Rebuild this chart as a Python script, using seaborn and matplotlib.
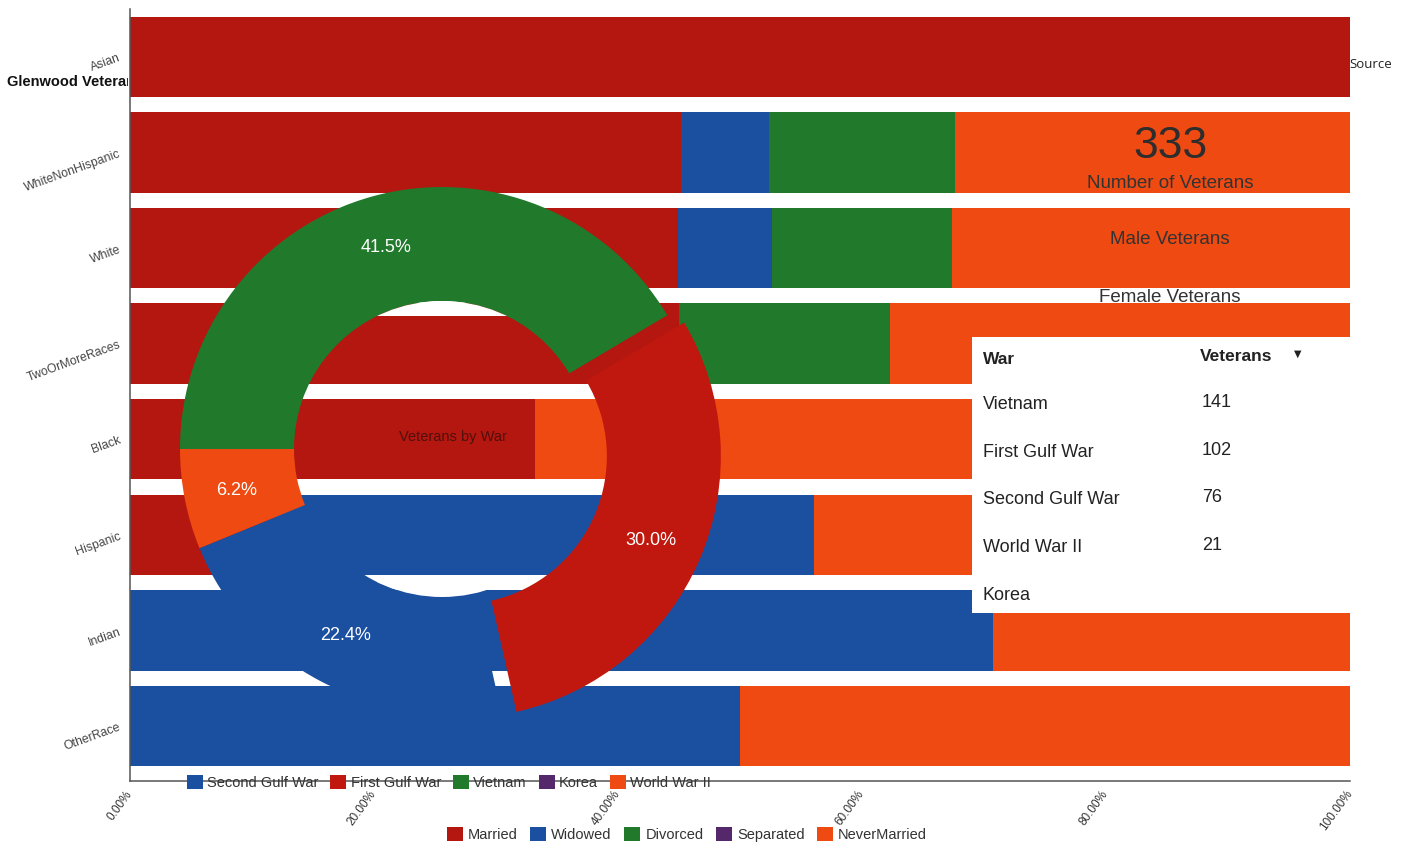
import matplotlib
matplotlib.use("Agg")
import matplotlib.pyplot as plt
import numpy as np
import pandas as pd
import seaborn as sns
from matplotlib.patches import Patch, Circle, Rectangle
from matplotlib.transforms import Bbox
from matplotlib.ticker import FixedLocator

# ---- marital status share (%) by race ----
races = ["Asian", "WhiteNonHispanic", "White", "TwoOrMoreRaces",
         "Black", "Hispanic", "Indian", "OtherRace"]
statuses = ["Married", "Widowed", "Divorced", "Separated", "NeverMarried"]
married = [100.0, 45.2, 44.9, 45.0, 33.2, 12.0, 0.0, 0.0]
widowed = [0.0, 7.2, 7.7, 0.0, 0.0, 44.1, 70.7, 50.0]
divorced = [0.0, 15.2, 14.8, 17.3, 0.0, 0.0, 0.0, 0.0]
separated = [0.0, 0.0, 0.0, 0.0, 0.0, 0.0, 0.0, 0.0]
never_married = [0.0, 32.4, 32.6, 37.7, 66.8, 43.9, 29.3, 50.0]
x_ticks = [0, 20, 40, 60, 80, 100]

# ---- veterans by war ----
wars = ["Vietnam", "First Gulf War", "Second Gulf War", "World War II", "Korea"]
war_veterans = [141, 102, 76, 21, None]
legend_wars = ["Second Gulf War", "First Gulf War", "Vietnam", "Korea", "World War II"]
total_veterans = 333
card_labels = ["Number of Veterans", "Male Veterans", "Female Veterans"]

status_colors = {
    "Married": "#b3170f",
    "Widowed": "#1b4fa0",
    "Divorced": "#217a2b",
    "Separated": "#55286b",
    "NeverMarried": "#ee4a12",
}
war_colors = {
    "Second Gulf War": "#1b4fa0",
    "First Gulf War": "#c0180e",
    "Vietnam": "#217a2b",
    "Korea": "#55286b",
    "World War II": "#ee4a12",
}

sns.set_style("white")
plt.rcParams["font.family"] = ["Liberation Sans", "DejaVu Sans"]

W, H = 1408, 854
fig = plt.figure(figsize=(W / 100, H / 100), dpi=100)
fig.patch.set_facecolor("white")


def fx(x):
    return x / W


def fy(y):
    return 1 - y / H


# ---- title (clipped by the plot area) ----
title = fig.text(fx(7), fy(82), "Glenwood Veterans", ha="left", va="center",
                 fontsize=10.5, fontweight="bold", color="#111111", zorder=0.5)
title.set_clip_box(Bbox.from_extents(0, 0, 128, H))
title.set_clip_on(True)

# ---- 100% stacked horizontal bars ----
ax = fig.add_axes([fx(130), fy(782), fx(1350) - fx(130), fy(10) - fy(782)])
ax.patch.set_alpha(0)
shares = pd.DataFrame({
    "race": races,
    "Married": married,
    "Widowed": widowed,
    "Divorced": divorced,
    "Separated": separated,
    "NeverMarried": never_married,
})
cum = shares[statuses].cumsum(axis=1)
cum["race"] = races
for status in reversed(statuses):
    if shares[status].max() <= 0:
        continue
    sns.barplot(data=cum, x=status, y="race", order=races, orient="h",
                color=status_colors[status], saturation=1, width=0.84,
                errorbar=None, linewidth=0, ax=ax)

ax.set_xlim(0, 100)
ax.set_ylim(len(races) - 0.5 + 0.075, -0.5)
ax.set_xlabel("")
ax.set_ylabel("")
ax.xaxis.set_major_locator(FixedLocator(x_ticks))
ax.set_xticklabels([f"{v:.2f}%" for v in x_ticks], rotation=54, ha="right",
                   va="center", rotation_mode="anchor", fontsize=8.5, color="#333333")
ax.set_yticks(range(len(races)))
ax.set_yticklabels(races, rotation=20, ha="right", va="center",
                   rotation_mode="anchor", fontsize=8.8, color="#444444")
ax.tick_params(axis="both", length=4, width=1, color="#666666", pad=3)
sns.despine(ax=ax)
for side in ("left", "bottom"):
    ax.spines[side].set_color("#555555")
    ax.spines[side].set_linewidth(1.1)

# ---- donut: veterans by war ----
cx, cy, R = 442, 450, 262
half = 1.15 * R
axd = fig.add_axes([fx(cx - half), fy(cy + half), 2 * half / W, 2 * half / H])
pie_names = [w for w, v in zip(wars, war_veterans) if v is not None]
pie_vals = [v for v in war_veterans if v is not None]
explode = [0.07 if w == "First Gulf War" else 0 for w in pie_names]
inner = 148 / R
axd.pie(pie_vals, colors=[war_colors[w] for w in pie_names], startangle=180,
        counterclock=False, explode=explode, radius=1,
        wedgeprops=dict(width=1 - inner, linewidth=0),
        autopct="%.1f%%", pctdistance=0.8,
        textprops=dict(color="white", fontsize=13))
axd.set_xlim(-1.15, 1.15)
axd.set_ylim(-1.15, 1.15)
axd.set_aspect("equal")
axd.axis("off")

# white rims at the top and bottom of the donut hole
cap_depth = 15 / R
for y0, y1 in ((inner - cap_depth, inner + 0.01), (-inner - 0.01, -inner + cap_depth)):
    cap = Circle((0, 0), inner, facecolor="white", edgecolor="none")
    axd.add_patch(cap)
    band = Rectangle((-1.2, y0), 2.4, y1 - y0, transform=axd.transData)
    cap.set_clip_path(band)

axd.text(0.04, 0.05, "Veterans by War", ha="center", va="center",
         fontsize=10.5, color="#3a0d0a", alpha=0.8)

# ---- summary card ----
fig.text(fx(1349), fy(64), "Source", ha="left", va="center", fontsize=9.5,
         color="#222222", family=["Open Sans", "DejaVu Sans"])
fig.text(fx(1170), fy(147), f"{total_veterans}", ha="center", va="center",
         fontsize=32, color="#2d2d2d")
for label, y in zip(card_labels, (183, 240, 297)):
    fig.text(fx(1170), fy(y), label, ha="center", va="center",
             fontsize=13.5, color="#333333")

# ---- table of veterans by war ----
axt = fig.add_axes([fx(972), fy(614), fx(1358) - fx(972), (614 - 338) / H])
axt.set_facecolor("white")
axt.set_xticks([])
axt.set_yticks([])
for sp in axt.spines.values():
    sp.set_visible(False)

fig.text(fx(983), fy(360), "War", ha="left", va="center", fontsize=12.5,
         fontweight="bold", color="#222222")
fig.text(fx(1200), fy(357), "Veterans", ha="left", va="center", fontsize=12.5,
         fontweight="bold", color="#222222")
fig.text(fx(1298), fy(354), "\u25BC", ha="center", va="center", fontsize=7,
         color="#222222", family=["DejaVu Sans"])
for i, (name, val) in enumerate(zip(wars, war_veterans)):
    y = 405 + i * 47.5
    fig.text(fx(983), fy(y), name, ha="left", va="center", fontsize=13,
             color="#222222")
    if val is not None:
        fig.text(fx(1202), fy(y - 2), f"{val}", ha="left", va="center",
                 fontsize=13, color="#222222")

# ---- legends ----
war_handles = [Patch(facecolor=war_colors[w], edgecolor="none", label=w)
               for w in legend_wars]
fig.legend(handles=war_handles, loc="center", bbox_to_anchor=(fx(449), fy(783)),
           ncol=5, frameon=False, fontsize=10.5, handlelength=1.1,
           handleheight=1.1, handletextpad=0.3, columnspacing=0.8,
           labelcolor="#333333", borderaxespad=0, borderpad=0)
status_handles = [Patch(facecolor=status_colors[s], edgecolor="none", label=s)
                  for s in statuses]
fig.legend(handles=status_handles, loc="center", bbox_to_anchor=(fx(687), fy(835)),
           ncol=5, frameon=False, fontsize=10.5, handlelength=1.1,
           handleheight=1.1, handletextpad=0.35, columnspacing=0.85,
           labelcolor="#333333", borderaxespad=0, borderpad=0)

fig.savefig("out.png", dpi=100, facecolor="white")
